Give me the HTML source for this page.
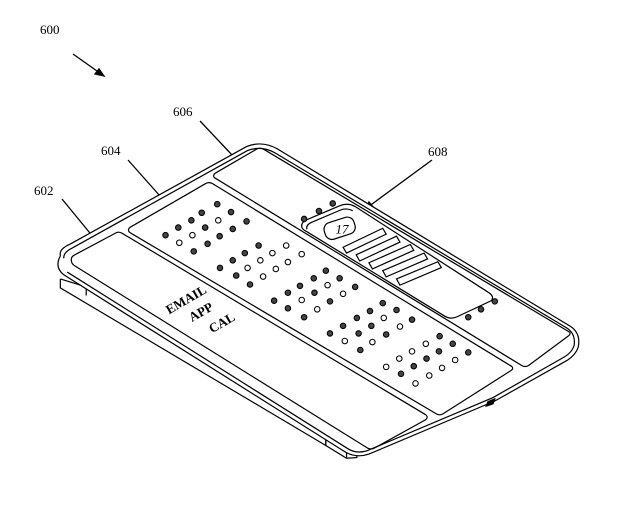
<!DOCTYPE html>
<html><head><meta charset="utf-8"><style>
html,body{margin:0;padding:0;background:#fff;}
svg{display:block;}
text{font-family:"Liberation Serif",serif;}
</style></head><body>
<svg width="640" height="514" viewBox="0 0 640 514" xmlns="http://www.w3.org/2000/svg">
<g font-size="13" fill="#000">
<text x="40" y="34">600</text>
<text x="173" y="116">606</text>
<text x="101" y="155">604</text>
<text x="34" y="195">602</text>
<text x="428" y="156">608</text>
</g>
<g stroke="#000" stroke-width="1.3" fill="none">
<line x1="73" y1="54" x2="104" y2="76"/>
<path d="M104,76 L95,74 L99,69 Z" fill="#000"/>
<line x1="200" y1="121" x2="233" y2="156"/>
<line x1="128" y1="160" x2="160" y2="196"/>
<line x1="62" y1="199" x2="94" y2="238"/>
<line x1="432" y1="160" x2="368" y2="207"/>
<path d="M365,210 L369,202 L373,207 Z" fill="#000"/>
</g>
<g transform="translate(50,130) scale(0.3448)" stroke="#000" stroke-width="3.5" fill="none">
<!-- lower sheet -->
<path d="M30,432 L30,458 L800,915"/>
<path d="M30,432 L105,455 L105,480"/>
<path d="M105,455 L800,880"/>
<path d="M800,880 L870,915 L890,930 L890,950 L860,952 L800,915 Z" fill="#fff"/>
<path d="M800,880 L800,915"/>
<path d="M860,952 L860,930 L800,895"/>
<!-- main body -->
<path d="M30,365 Q25,345 60,330 L570,48 Q615,30 660,55 L1510,570 Q1540,590 1532,630 Q1525,652 1500,668 L1290,786 L925,940 Q890,952 858,935 L40,420 Q12,398 30,365 Z" fill="#fff"/>
<path d="M40,372 Q38,355 65,342 L572,60 Q612,44 652,66 L1500,575 Q1525,592 1520,625 Q1514,645 1492,658 L1285,776 L920,930 Q890,940 865,925 L50,412"/>
<path d="M1270,788 L1290,780 L1285,794 L1265,801 Z" fill="#000"/>
<!-- panels -->
<path d="M62,378 Q60,368 72,362 L192,298 Q200,294 210,300 L1090,826 Q1098,832 1090,840 L942,922 Q932,928 920,922 L72,394 Q62,388 62,378 Z"/>
<path d="M228,292 Q226,285 236,280 L452,155 Q462,150 472,156 L1338,685 Q1346,690 1338,697 L1140,823 Q1130,829 1120,823 L236,300 Q228,296 228,292 Z"/>
<path d="M475,135 Q473,128 483,123 L600,55 Q610,50 620,56 L1505,585 Q1512,590 1505,596 L1388,683 Q1378,689 1368,683 L483,142 Q475,138 475,135 Z"/>
<!-- widget 608 -->
<path d="M730,280 Q728,268 745,260 L840,220 Q862,210 885,222 L1270,470 Q1290,482 1280,495 L1180,542 Q1162,550 1145,540 L745,295 Q730,288 730,280 Z"/>
<path d="M745,288 Q742,275 758,268 L843,232 Q860,225 878,234"/>
<rect x="795" y="260" width="90" height="50" rx="20" transform="rotate(-18 840 285)"/>
<text x="828" y="300" font-size="38" font-style="italic" fill="#000" stroke="none" style="font-family:'Liberation Serif',serif">17</text>
<path d="M850,340 L965,285 L975,302 L860,357 Z"/>
<path d="M888,362 L1005,308 L1015,325 L898,380 Z"/>
<path d="M925,385 L1045,332 L1055,349 L935,403 Z"/>
<path d="M965,408 L1085,357 L1095,374 L975,426 Z"/>
<path d="M1005,432 L1125,382 L1135,399 L1015,450 Z"/>
</g>
<g transform="translate(50,130) scale(0.3448)" stroke="#000" stroke-width="3" fill="#000">
<g fill="#444">
<circle cx="485" cy="215" r="8"/><circle cx="440" cy="240" r="8"/><circle cx="525" cy="238" r="8"/><circle cx="410" cy="262" r="8"/><circle cx="570" cy="265" r="8"/><circle cx="372" cy="283" r="8"/><circle cx="450" cy="283" r="8"/><circle cx="530" cy="287" r="8"/><circle cx="335" cy="305" r="8"/><circle cx="492" cy="308" r="8"/><circle cx="457" cy="330" r="8"/><circle cx="417" cy="352" r="8"/>
<circle cx="605" cy="335" r="8"/><circle cx="565" cy="357" r="8"/><circle cx="530" cy="378" r="8"/><circle cx="493" cy="400" r="8"/><circle cx="540" cy="422" r="8"/><circle cx="580" cy="448" r="8"/>
<circle cx="800" cy="408" r="8"/><circle cx="765" cy="430" r="8"/><circle cx="840" cy="430" r="8"/><circle cx="725" cy="452" r="8"/><circle cx="885" cy="455" r="8"/><circle cx="690" cy="472" r="8"/><circle cx="767" cy="472" r="8"/><circle cx="650" cy="495" r="8"/><circle cx="812" cy="497" r="8"/><circle cx="690" cy="517" r="8"/><circle cx="737" cy="543" r="8"/>
<circle cx="965" cy="502" r="8"/><circle cx="928" cy="525" r="8"/><circle cx="1005" cy="522" r="8"/><circle cx="890" cy="545" r="8"/><circle cx="1050" cy="550" r="8"/><circle cx="850" cy="568" r="8"/><circle cx="932" cy="568" r="8"/><circle cx="812" cy="590" r="8"/><circle cx="895" cy="590" r="8"/><circle cx="975" cy="593" r="8"/><circle cx="900" cy="638" r="8"/>
<circle cx="1130" cy="598" r="8"/><circle cx="1168" cy="620" r="8"/><circle cx="1128" cy="642" r="8"/><circle cx="1213" cy="645" r="8"/><circle cx="1092" cy="663" r="8"/><circle cx="1055" cy="685" r="8"/><circle cx="1018" cy="707" r="8"/>
<circle cx="820" cy="213" r="8"/><circle cx="780" cy="235" r="8"/><circle cx="737" cy="258" r="8"/><circle cx="1290" cy="497" r="8"/><circle cx="1250" cy="520" r="8"/><circle cx="1213" cy="543" r="8"/>
</g>
<g fill="#fff">
<circle cx="488" cy="262" r="8"/><circle cx="413" cy="305" r="8"/><circle cx="375" cy="327" r="8"/>
<circle cx="685" cy="335" r="8"/><circle cx="645" cy="357" r="8"/><circle cx="730" cy="360" r="8"/><circle cx="610" cy="378" r="8"/><circle cx="690" cy="383" r="8"/><circle cx="573" cy="400" r="8"/><circle cx="655" cy="403" r="8"/><circle cx="618" cy="425" r="8"/>
<circle cx="805" cy="450" r="8"/><circle cx="850" cy="475" r="8"/><circle cx="730" cy="493" r="8"/><circle cx="775" cy="520" r="8"/>
<circle cx="968" cy="545" r="8"/><circle cx="1015" cy="570" r="8"/><circle cx="855" cy="612" r="8"/><circle cx="935" cy="615" r="8"/>
<circle cx="1090" cy="620" r="8"/><circle cx="1050" cy="642" r="8"/><circle cx="1013" cy="663" r="8"/><circle cx="1175" cy="667" r="8"/><circle cx="975" cy="687" r="8"/><circle cx="1137" cy="690" r="8"/><circle cx="1100" cy="712" r="8"/><circle cx="1060" cy="735" r="8"/>
</g>
<g fill="#000" stroke="none" font-weight="bold" font-size="38" style="font-family:'Liberation Sans',sans-serif">
<text transform="translate(345,535) rotate(-30)">EMAIL</text>
<text transform="translate(412,557) rotate(-30)">APP</text>
<text transform="translate(470,590) rotate(-30)">CAL</text>
</g>
</g>
</svg>
</body></html>
